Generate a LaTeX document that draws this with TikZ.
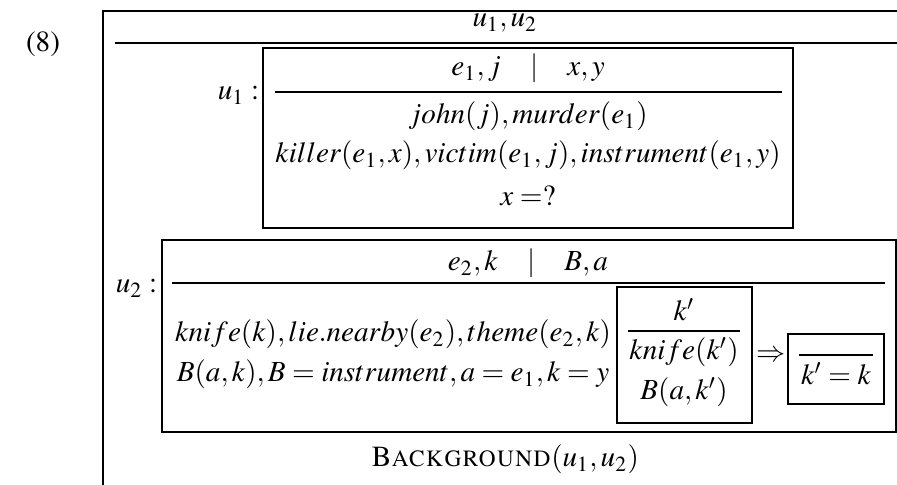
\documentclass[tikz,border=0pt]{standalone}
\usepackage[T1]{fontenc}
\usepackage{mathptmx}

\begin{document}
\begin{tikzpicture}[x=0.343pt, y=-0.343pt, line width=0.5pt,
    txt/.style={anchor=base, inner sep=0pt}]
    \useasboundingbox (0,0) rectangle (897,485);

    % outer box, cut at the right and bottom
    \draw (897,11) -- (103,11) -- (103,485);
    \draw (115,43) -- (897,43);
    \node[txt] (num) at (43,52) {(8)};
    \node[txt] (refs) at (505,27) {$u_1,u_2$};

    % inner boxes and their rules
    \foreach \l/\t/\r/\b in {263/48/793/228, 162/240/896/432, 617/287/752/423, 788/334/884/404}
        \draw (\l,\t) rectangle (\r,\b);
    \foreach \l/\r/\y in {275/782/92, 172/885/283, 628/740/331, 799/873/355}
        \draw (\l,\y) -- (\r,\y);

    % u1
    \node[txt, anchor=base east] (labA) at (260,100) {$u_1:$};
    \node[txt] (hdA) at (528,76) {$e_1,j \quad | \quad x,y$};
    \node[txt] (condA1) at (528,124) {$john(j),murder(e_1)$};
    \node[txt] (condA2) at (528,163) {$killer(e_1,x),victim(e_1,j),instrument(e_1,y)$};
    \node[txt] (condA3) at (528,206) {$x=$?};

    % u2
    \node[txt, anchor=base east] (labB) at (158,293) {$u_2:$};
    \node[txt] (hdB) at (528,271) {$e_2,k \quad | \quad B,a$};
    \node[txt] (condB1) at (393,342) {$knife(k),lie.nearby(e_2),theme(e_2,k)$};
    \node[txt] (condB2) at (393,382) {$B(a,k),B=instrument,a=e_1,k=y$};
    \node[txt] (hdC) at (684,321) {$k'$};
    \node[txt] (condC1) at (684,360) {$knife(k')$};
    \node[txt] (condC2) at (684,400) {$B(a,k')$};
    \node[txt] (imp) at (771,362) {$\Rightarrow$};
    \node[txt] (condD) at (836,385) {$k'=k$};

    \node[txt] (bg) at (505,467) {\textsc{Background}$(u_1,u_2)$};
\end{tikzpicture}
\end{document}
